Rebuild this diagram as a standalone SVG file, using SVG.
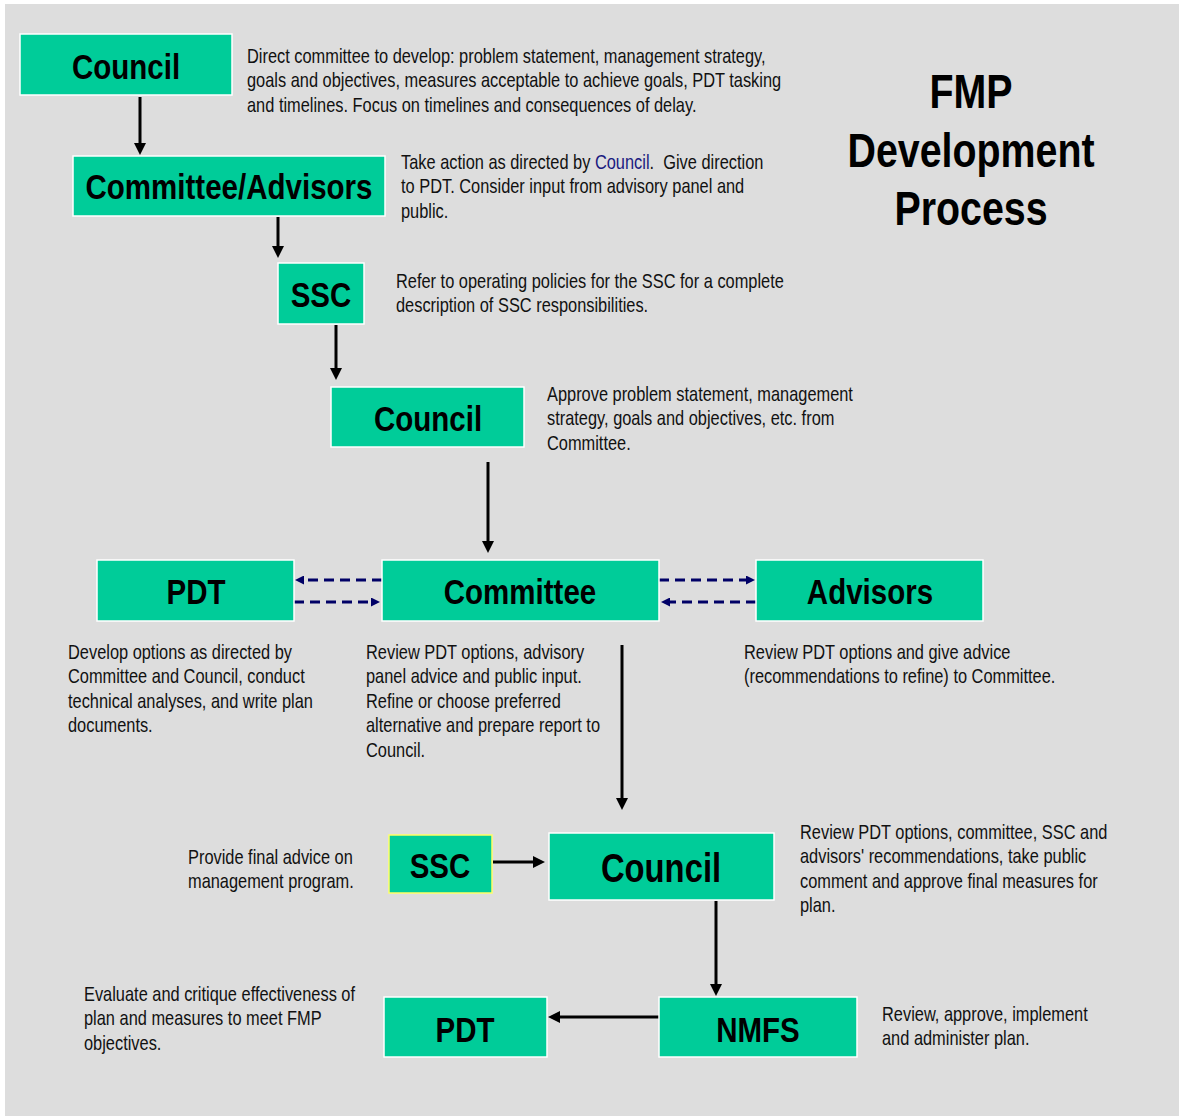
<svg xmlns="http://www.w3.org/2000/svg" width="1179" height="1116" viewBox="0 0 1179 1116">
<style>
.bg{fill:#dddddd}
.node rect{fill:#00cc99;stroke:#ffffff;stroke-width:1.5}
.node rect.ylw{stroke:#ffff66}
.lbl{font-family:"Liberation Sans",Arial,sans-serif;font-weight:bold;font-size:36px;text-anchor:middle;fill:#000}
.title{font-family:"Liberation Sans",Arial,sans-serif;font-weight:bold;font-size:48px;text-anchor:middle;fill:#000}
.desc{font-family:"Liberation Sans",Arial,sans-serif;font-size:20px;fill:#111}
.arrow{stroke:#000;stroke-width:3;fill:none;marker-end:url(#ah)}
.dash{stroke:#000066;stroke-width:3;fill:none;stroke-dasharray:10 6;marker-end:url(#dh)}
</style>
<defs>
<marker id="ah" markerUnits="userSpaceOnUse" markerWidth="12" markerHeight="12" refX="1" refY="6" orient="auto"><path d="M0,0 L12,6 L0,12 z" fill="#000"/></marker>
<marker id="dh" markerUnits="userSpaceOnUse" markerWidth="9" markerHeight="9" refX="1" refY="4.5" orient="auto"><path d="M0,0 L9,4.5 L0,9 z" fill="#000066"/></marker>
</defs>
<rect class="bg" x="5" y="4" width="1174" height="1112"/>

<g id="title">
<text class="title" transform="translate(971,108) scale(0.82,1)">FMP</text>
<text class="title" transform="translate(971,167) scale(0.82,1)">Development</text>
<text class="title" transform="translate(971,225) scale(0.82,1)">Process</text>
</g>

<g id="connectors">
<line class="arrow" x1="140" y1="97" x2="140" y2="144"/>
<line class="arrow" x1="278" y1="217" x2="278" y2="247"/>
<line class="arrow" x1="336" y1="325" x2="336" y2="369"/>
<line class="arrow" x1="488" y1="462" x2="488" y2="542"/>
<line class="arrow" x1="622" y1="645" x2="622" y2="799"/>
<line class="arrow" x1="493" y1="862" x2="534" y2="862"/>
<line class="arrow" x1="716" y1="901" x2="716" y2="985"/>
<line class="arrow" x1="659" y1="1017" x2="559" y2="1017"/>
<line class="dash" x1="382" y1="580" x2="303" y2="580"/>
<line class="dash" x1="294" y1="602" x2="372" y2="602"/>
<line class="dash" x1="659" y1="580" x2="747" y2="580"/>
<line class="dash" x1="756" y1="602" x2="669" y2="602"/>
</g>

<g id="council1" class="node">
<rect x="20" y="34" width="212" height="61"/>
<text class="lbl" transform="translate(126,79) scale(0.82,1)">Council</text>
</g>
<g id="committee-advisors" class="node">
<rect x="73" y="156" width="312" height="60"/>
<text class="lbl" transform="translate(229,199) scale(0.82,1)">Committee/Advisors</text>
</g>
<g id="ssc1" class="node">
<rect x="278" y="263" width="86" height="61"/>
<text class="lbl" transform="translate(321,307) scale(0.82,1)">SSC</text>
</g>
<g id="council2" class="node">
<rect x="331" y="387" width="193" height="60"/>
<text class="lbl" transform="translate(428,431) scale(0.82,1)">Council</text>
</g>
<g id="pdt1" class="node">
<rect x="97" y="560" width="197" height="61"/>
<text class="lbl" transform="translate(196,604) scale(0.82,1)">PDT</text>
</g>
<g id="committee" class="node">
<rect x="382" y="560" width="277" height="61"/>
<text class="lbl" transform="translate(520,604) scale(0.82,1)">Committee</text>
</g>
<g id="advisors" class="node">
<rect x="756" y="560" width="227" height="61"/>
<text class="lbl" transform="translate(870,604) scale(0.82,1)">Advisors</text>
</g>
<g id="ssc2" class="node">
<rect class="ylw" x="389" y="835" width="103" height="58"/>
<text class="lbl" transform="translate(440,878) scale(0.82,1)">SSC</text>
</g>
<g id="council3" class="node">
<rect x="549" y="833" width="225" height="67"/>
<text class="lbl" style="font-size:40px" transform="translate(661,882) scale(0.82,1)">Council</text>
</g>
<g id="pdt2" class="node">
<rect x="384" y="997" width="163" height="60"/>
<text class="lbl" transform="translate(465,1042) scale(0.82,1)">PDT</text>
</g>
<g id="nmfs" class="node">
<rect x="659" y="997" width="198" height="60"/>
<text class="lbl" transform="translate(758,1042) scale(0.82,1)">NMFS</text>
</g>

<g id="descriptions">
<text class="desc" transform="translate(247,63) scale(0.82,1)"><tspan x="0" y="0">Direct committee to develop: problem statement, management strategy,</tspan><tspan x="0" y="24.5">goals and objectives, measures acceptable to achieve goals, PDT tasking</tspan><tspan x="0" y="49">and timelines. Focus on timelines and consequences of delay.</tspan></text>
<text class="desc" transform="translate(401,169) scale(0.82,1)"><tspan x="0" y="0">Take action as directed by <tspan fill="#1a1a80">Council</tspan>.&#160; Give direction</tspan><tspan x="0" y="24.5">to PDT. Consider input from advisory panel and</tspan><tspan x="0" y="49">public.</tspan></text>
<text class="desc" transform="translate(396,288) scale(0.82,1)"><tspan x="0" y="0">Refer to operating policies for the SSC for a complete</tspan><tspan x="0" y="24.5">description of SSC responsibilities.</tspan></text>
<text class="desc" transform="translate(547,401) scale(0.82,1)"><tspan x="0" y="0">Approve problem statement, management</tspan><tspan x="0" y="24.5">strategy, goals and objectives, etc. from</tspan><tspan x="0" y="49">Committee.</tspan></text>
<text class="desc" transform="translate(68,659) scale(0.82,1)"><tspan x="0" y="0">Develop options as directed by</tspan><tspan x="0" y="24.5">Committee and Council, conduct</tspan><tspan x="0" y="49">technical analyses, and write plan</tspan><tspan x="0" y="73.5">documents.</tspan></text>
<text class="desc" transform="translate(366,659) scale(0.82,1)"><tspan x="0" y="0">Review PDT options, advisory</tspan><tspan x="0" y="24.5">panel advice and public input.</tspan><tspan x="0" y="49">Refine or choose preferred</tspan><tspan x="0" y="73.5">alternative and prepare report to</tspan><tspan x="0" y="98">Council.</tspan></text>
<text class="desc" transform="translate(744,659) scale(0.82,1)"><tspan x="0" y="0">Review PDT options and give advice</tspan><tspan x="0" y="24.5">(recommendations to refine) to Committee.</tspan></text>
<text class="desc" transform="translate(188,864) scale(0.82,1)"><tspan x="0" y="0">Provide final advice on</tspan><tspan x="0" y="24.5">management program.</tspan></text>
<text class="desc" transform="translate(800,839) scale(0.82,1)"><tspan x="0" y="0">Review PDT options, committee, SSC and</tspan><tspan x="0" y="24.5">advisors' recommendations, take public</tspan><tspan x="0" y="49">comment and approve final measures for</tspan><tspan x="0" y="73.5">plan.</tspan></text>
<text class="desc" transform="translate(84,1001) scale(0.82,1)"><tspan x="0" y="0">Evaluate and critique effectiveness of</tspan><tspan x="0" y="24.5">plan and measures to meet FMP</tspan><tspan x="0" y="49">objectives.</tspan></text>
<text class="desc" transform="translate(882,1021) scale(0.82,1)"><tspan x="0" y="0">Review, approve, implement</tspan><tspan x="0" y="24.5">and administer plan.</tspan></text>
</g>
</svg>
